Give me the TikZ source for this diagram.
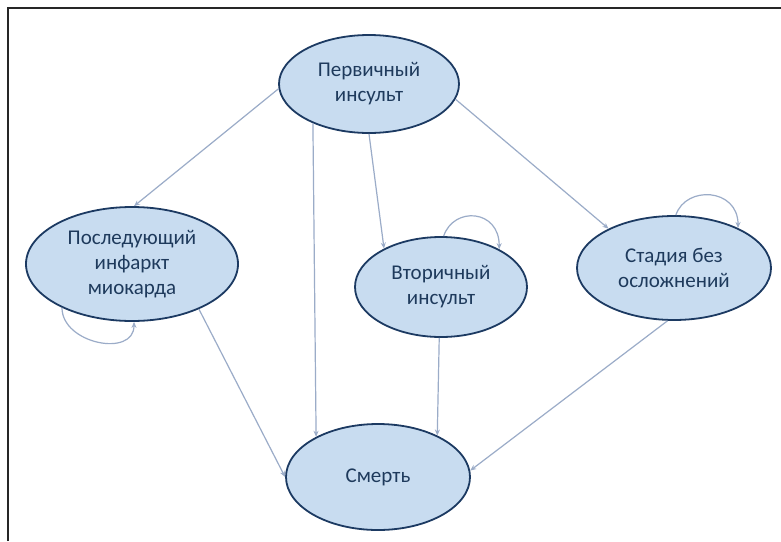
\documentclass[tikz,border=0pt]{standalone}
\usepackage{fontspec}
\setmainfont{Carlito}
\usetikzlibrary{shapes.geometric,arrows.meta}
\definecolor{efill}{RGB}{200,220,240}
\definecolor{edraw}{RGB}{28,58,98}
\definecolor{etext}{RGB}{30,58,92}
\definecolor{arr}{RGB}{155,172,200}
\tikzset{
  state/.style={ellipse, draw=edraw, fill=efill, line width=1.8pt, inner sep=0pt,
    text=etext, align=center, font=\fontsize{21}{25}\selectfont},
  link/.style={draw=arr, line width=1.2pt, -{Stealth[length=6pt,width=5pt]}},
}
\begin{document}
\begin{tikzpicture}[x=1pt,y=-1pt]
\useasboundingbox (0,0) rectangle (781,541);
\fill[white] (0,0) rectangle (781,541);
\draw[line width=1.5pt, black!85] (8,541) -- (8,8) -- (781,8);
\node[state, minimum width=180pt, minimum height=98pt] (P) at (369,84) {Первичный\\инсульт};
\node[state, minimum width=212pt, minimum height=114pt] (M) at (132,264) {Последующий\\инфаркт\\миокарда};
\node[state, minimum width=172pt, minimum height=100pt] (V) at (441,287) {Вторичный\\инсульт};
\node[state, minimum width=194pt, minimum height=104pt] (S) at (674,268) {Стадия без\\осложнений};
\node[state, minimum width=184pt, minimum height=106pt] (D) at (378,477) {Смерть};
\draw[link] (P.183) -- (M.88);
\draw[link] (P.215) -- (D.147);
\draw[link] (P.270) -- (V.146);
\draw[link] (P.-10) -- (S.149);
\draw[link] (M.-34) -- (D.180);
\draw[link] (V.268) -- (D.35);
\draw[link] (S.263) -- (D.4);
\draw[link] (V.87) .. controls +(10,-30) and +(0,-40) .. (V.33);
\draw[link] (S.88) .. controls +(10,-30) and +(0,-40) .. (S.32);
\draw[link] (M.212) .. controls +(0,36) and +(0,36) .. (M.272);
\end{tikzpicture}
\end{document}
